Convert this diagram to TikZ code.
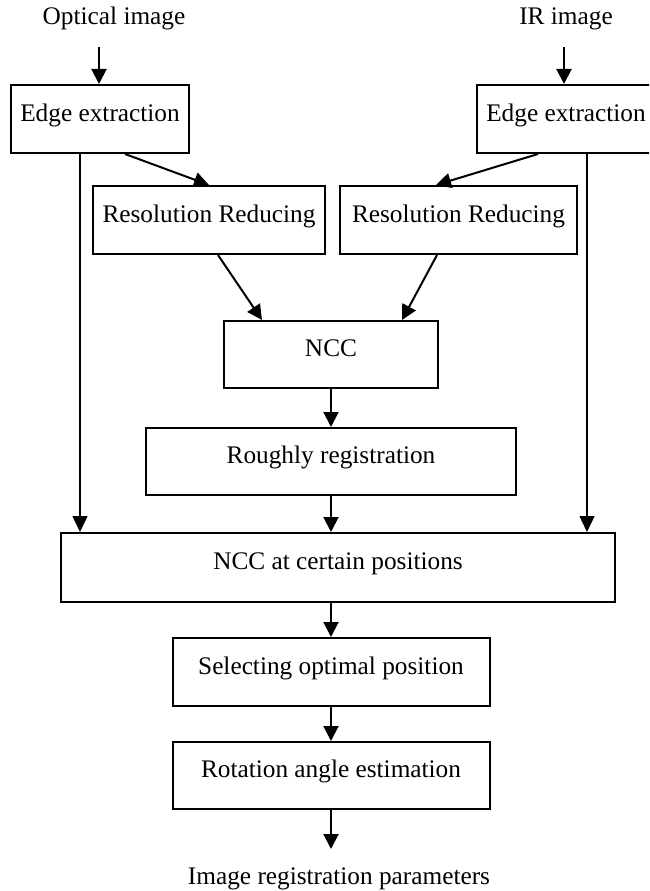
\documentclass[tikz,border=0pt]{standalone}
\usepackage{fontspec}
\setmainfont{Liberation Serif}
\usetikzlibrary{arrows.meta,calc}
\begin{document}
\begin{tikzpicture}[x=1pt,y=-1pt,
  every node/.style={font=\fontsize{25.3pt}{30pt}\selectfont, inner sep=0pt},
  stepbox/.style={draw, line width=2pt, text height=18pt, text depth=14pt,
                  minimum height=68pt},
  flow/.style={-{Triangle[length=15pt,width=15pt]}, line width=2pt},
  bypass/.style={-{Triangle[length=16pt,width=15pt]}, line width=1.4pt},
  plaintext/.style={anchor=base}]
\useasboundingbox (0,0) rectangle (649,891);
\clip (0,0) rectangle (649,891);

% processing steps
\node[stepbox, minimum width=178pt] (edgeL) at (100,119) {Edge extraction};
\node[stepbox, minimum width=178pt] (edgeR) at (566,119) {Edge extraction};
\node[stepbox, minimum width=232pt] (redL) at (209,220) {Resolution Reducing};
\node[stepbox, minimum width=237pt] (redR) at (458.5,220) {Resolution Reducing};
\node[stepbox, minimum width=214pt, minimum height=67pt] (ncc) at (331,354.5) {NCC};
\node[stepbox, minimum width=370pt, minimum height=67pt] (rough) at (331,461.5) {Roughly registration};
\node[stepbox, minimum width=554pt, minimum height=69pt] (nccpos) at (338,567.5) {NCC at certain positions};
\node[stepbox, minimum width=317pt] (select) at (331,672) {Selecting optimal position};
\node[stepbox, minimum width=317pt, minimum height=67pt] (rotate) at (331,775.5) {Rotation angle estimation};

% inputs and output
\node[plaintext] (optical) at (114,25) {Optical image};
\node[plaintext] (ir) at (566,25) {IR image};
\node[plaintext] (params) at (339,884) {Image registration parameters};

\coordinate (optin) at (99,47);
\coordinate (irin) at (564,47);
\coordinate (out) at ($(rotate.south)+(0,39)$);
\coordinate (leftrail) at (80,0);
\coordinate (rightrail) at (587,0);

% connectors
\draw[flow] (optin) -- (optin |- edgeL.north);
\draw[flow] (irin) -- (irin |- edgeR.north);
\draw[flow] ($(edgeL.south)+(25,0)$) -- (redL.north);
\draw[flow] ($(edgeR.south)+(-28,0)$) -- ($(redR.north)+(-22.5,0)$);
\draw[flow] ($(redL.south)+(9,0)$) -- ($(ncc.north)+(-69,0)$);
\draw[flow] ($(redR.south)+(-21.5,0)$) -- ($(ncc.north)+(71,0)$);
\draw[bypass] (leftrail |- edgeL.south) -- (leftrail |- nccpos.north);
\draw[bypass] (rightrail |- edgeR.south) -- (rightrail |- nccpos.north);
\draw[flow] (ncc.south) -- (rough.north);
\draw[flow] (rough.south) -- (rough.south |- nccpos.north);
\draw[flow] (select.north |- nccpos.south) -- (select.north);
\draw[flow] (select.south) -- (rotate.north);
\draw[flow] (rotate.south) -- (out);
\end{tikzpicture}
\end{document}
